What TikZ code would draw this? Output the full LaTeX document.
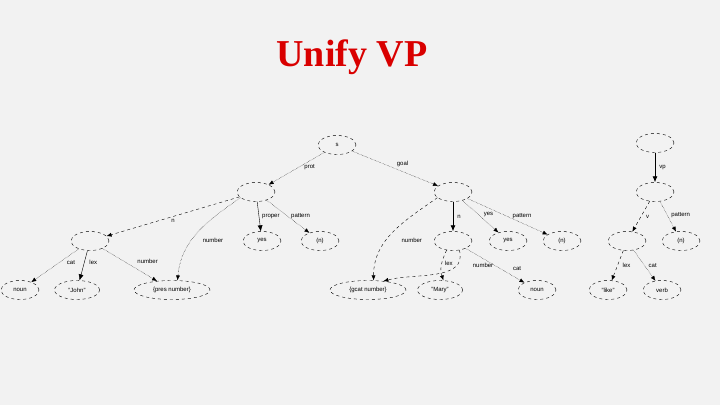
\documentclass[tikz,border=0pt]{standalone}
\usepackage{tikz}
\usepackage{fontspec}
\setmainfont{Liberation Serif}
\setsansfont{Liberation Sans}
\usetikzlibrary{positioning, arrows.meta, shapes.geometric}

\tikzset{
  fnode/.style={draw, dashed, ellipse, minimum width=38pt, minimum height=19pt, inner sep=1pt, font=\sffamily\fontsize{6}{6}\selectfont},
  wnode/.style={fnode, minimum width=76pt},
  edge/.style={->, >={Latex[length=5pt,width=4pt]}, densely dotted},
  head/.style={->, >={Latex[length=6pt,width=5pt]}, thick},
  lbl/.style={font=\sffamily\fontsize{6}{6}\selectfont, inner sep=1pt}
}

\begin{document}
\begin{tikzpicture}[x=1pt, y=-1pt]
% Background
\fill[gray!10] (0,0) rectangle (720,405);
\useasboundingbox (0,0) rectangle (720,405);

% Title
\node[text=red!85!black, font=\bfseries\fontsize{38}{38}\selectfont] (title) at (352,57) {Unify VP};

% Left structure
\node[fnode] (root) at (337,145) {s};
\node[fnode] (agt) at (256,192) {};
\node[fnode] (gol) at (453,192) {};
\node[fnode] (nA) at (90,241) {};
\node[fnode] (yesA) at (262,241) {yes};
\node[fnode] (patA) at (320,241) {(n)};
\node[fnode] (nG) at (453,241) {};
\node[fnode] (yesG) at (508,241) {yes};
\node[fnode] (patG) at (562,241) {(n)};
\node[fnode] (nounA) at (20,290) {noun};
\node[fnode, minimum width=45pt] (john) at (77,290) {"John"};
\node[wnode] (numA) at (172,290) {\{pres number\}};
\node[wnode] (numG) at (368,290) {\{gcat number\}};
\node[fnode, minimum width=45pt] (mary) at (440,290) {"Mary"};
\node[fnode] (nounG) at (537,290) {noun};

% Edges of the left structure
\draw[edge] (root) -- (agt) node[lbl, pos=.45, right=4pt] {prot};
\draw[edge] (root) -- (gol) node[lbl, pos=.5, above right=1pt] {goal};
\draw[edge, dashed] (agt) -- (nA) node[lbl, pos=.5, below=2pt] {n};
\draw[edge] (agt.200) to[out=215, in=85] node[lbl, pos=.6, right=10pt] {number} (numA.60);
\draw[head, thin] (agt) -- (yesA) node[lbl, pos=.5, right=2pt] {proper};
\draw[edge] (agt) -- (patA) node[lbl, pos=.5, right=2pt] {pattern};
\draw[edge] (nA) -- (nounA) node[lbl, pos=.4, right=6pt] {cat};
\draw[head, thin] (nA) -- (john) node[lbl, pos=.4, right=4pt] {lex};
\draw[edge] (nA) -- (numA) node[lbl, pos=.4, right=12pt] {number};
\draw[edge, dashed] (gol.200) to[out=215, in=90] node[lbl, pos=.6, right=14pt] {number} (numG.60);
\draw[head] (gol) -- (nG) node[lbl, pos=.5, right=3pt] {n};
\draw[edge] (gol) -- (yesG) node[lbl, pos=.45, right=4pt] {yes};
\draw[edge] (gol) -- (patG) node[lbl, pos=.5, right=4pt] {pattern};
\draw[edge, dashed] (nG.235) to[out=245, in=110] node[lbl, pos=.45, right=2pt] {lex} (mary.70);
\draw[edge, dashed] (nG.305) to[out=-75, in=15] (numG.30);
\draw[edge] (nG) -- (nounG) node[lbl, pos=.75, above right=3pt] {cat};
\node[lbl] (numlbl) at (483,265) {number};

% Right structure
\node[fnode] (top) at (655,143) {};
\node[fnode] (vp) at (655,192) {};
\node[fnode] (vv) at (627,241) {};
\node[fnode] (patV) at (681,241) {(n)};
\node[fnode] (like) at (608,290) {"like"};
\node[fnode] (verb) at (662,290) {verb};

\draw[head] (top) -- (vp) node[lbl, pos=.5, right=3pt] {vp};
\draw[edge, dashed] (vp) -- (vv) node[lbl, pos=.5, right=4pt] {v};
\draw[edge] (vp) -- (patV) node[lbl, pos=.45, right=3pt] {pattern};
\draw[edge, dashed] (vv) -- (like) node[lbl, pos=.5, right=4pt] {lex};
\draw[edge] (vv) -- (verb) node[lbl, pos=.5, right=3pt] {cat};
\end{tikzpicture}
\end{document}
